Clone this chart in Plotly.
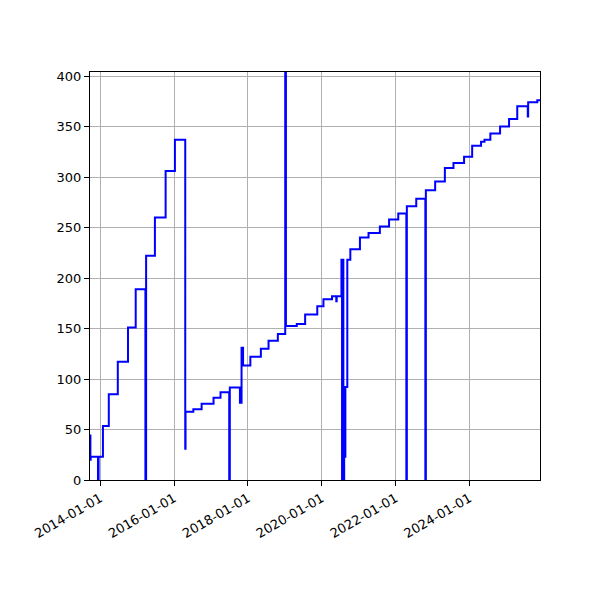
import plotly.graph_objects as go

# change points of the series (value holds until the next date)
dates = [
    "2013-09-22", "2013-09-26", "2013-09-29", "2013-12-10", "2013-12-16",
    "2014-01-28", "2014-03-27", "2014-06-24", "2014-10-03", "2014-12-18",
    "2015-03-24", "2015-03-31", "2015-06-26", "2015-10-10", "2016-01-10",
    "2016-04-21", "2016-04-24", "2016-07-10", "2016-09-30", "2017-01-26",
    "2017-04-05", "2017-06-30", "2017-07-06", "2017-10-14", "2017-10-30",
    "2017-11-14", "2018-01-25", "2018-05-09", "2018-07-24", "2018-10-24",
    "2019-01-05", "2019-01-12", "2019-04-29", "2019-07-21", "2019-11-18",
    "2020-01-18", "2020-04-12", "2020-05-24", "2020-05-28", "2020-07-14",
    "2020-07-20", "2020-07-26", "2020-08-02", "2020-08-10", "2020-08-14",
    "2020-08-22", "2020-09-10", "2020-10-10", "2021-01-13", "2021-04-08",
    "2021-07-29", "2021-10-28", "2022-01-27", "2022-04-17", "2022-04-22",
    "2022-07-24", "2022-10-22", "2022-10-27", "2023-01-27", "2023-05-03",
    "2023-07-27", "2023-11-09", "2024-01-28", "2024-04-25", "2024-05-29",
    "2024-07-26", "2024-10-30", "2025-01-27", "2025-04-18", "2025-07-31",
    "2025-08-04", "2025-11-02", "2025-11-29",
]
values = [
    44, 20, 23, 0, 23,
    53.5, 85, 117, 151, 189,
    0, 222, 260, 306, 337,
    31, 67.5, 70, 75.5, 81.5,
    87, 0, 91.5, 76.5, 131,
    113.5, 122, 130, 138, 144.5,
    430, 152.5, 154.5, 164, 172,
    179, 182, 177, 182, 218,
    0, 218, 0, 92, 23,
    92, 218, 228.5, 240, 244.5,
    251, 258, 264, 0, 271,
    278.5, 0, 287, 295.5, 309,
    314, 320, 331, 335, 337,
    343, 350, 357.5, 370, 360,
    374, 376, 376,
]

fig = go.Figure()
fig.add_trace(go.Scatter(x=dates, y=values, mode="lines", line_shape="hv",
                         line=dict(color="#0000ff", width=2), showlegend=False))

axis_style = dict(showline=True, linecolor="black", linewidth=1, mirror=True,
                  ticks="outside", ticklen=5, tickcolor="black",
                  showgrid=True, gridcolor="#b0b0b0", gridwidth=1, zeroline=False,
                  tickfont=dict(family="DejaVu Sans", size=13, color="black"))

fig.update_xaxes(**axis_style, range=[dates[0], dates[-1]], tick0="2014-01-01",
                 dtick="M24", tickformat="%Y-%m-%d", tickangle=-30)
fig.update_yaxes(**axis_style, range=[0, 404], tick0=0, dtick=50)

# page body adds 8px, so margins are shifted to land the axes where they were
fig.update_layout(width=600, height=600, plot_bgcolor="white", paper_bgcolor="white",
                  margin=dict(l=82, r=68, t=64, b=128))

fig.write_html("out.html")
